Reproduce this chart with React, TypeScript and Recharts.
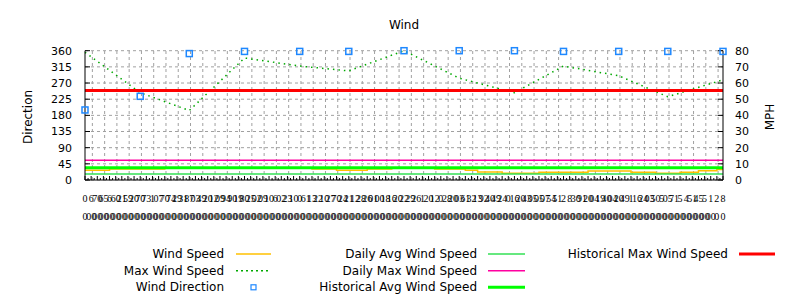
import React from "react";
import {
  ComposedChart,
  Line,
  Scatter,
  XAxis,
  YAxis,
  CartesianGrid,
  ReferenceLine,
  Customized,
} from "recharts";

// ---- data ----
const readingIdx = [0, 9, 17, 26, 35, 43, 52, 61, 70, 78, 87, 95, 104];
const windDirection = [195, 233, 352, 358, 358, 358, 360, 360, 360, 358, 358, 358, 358];
const maxWindSpeed = [79, 54, 43, 75.5, 70.5, 67.5, 80, 63, 54, 70.5, 64.5, 51.5, 62];

const windSpeedIdx = [0, 4, 13, 37, 41, 46, 50, 57, 62, 64, 68, 74, 82, 89, 93, 97, 100, 103, 104];
const windSpeed = [6.0, 6.8, 7.5, 6.8, 6.0, 6.8, 7.5, 6.8, 6.0, 5.0, 4.1, 4.8, 5.6, 4.8, 4.1, 4.8, 5.7, 6.5, 6.5];

const dailyAvgWindSpeed = 3.7;
const dailyMaxWindSpeed = 12.2;
const historicalAvgWindSpeed = 7.6;
const historicalMaxWindSpeed = 55.3;

const topLabels = [
  "0", "6", "70", "65", "6", "60", "21", "59", "20", "70",
  "73", "1", "07", "70", "74", "29", "31", "87", "03", "49",
  "20", "12", "09", "94", "90", "19", "80", "25", "02", "09",
  "10", "6", "02", "23", "10", "0", "61", "13", "22", "10",
  "27", "70", "24", "21", "12", "28", "26", "01", "00", "18",
  "16", "20", "22", "29", "26", "1", "20", "12", "0", "28",
  "20", "03", "61", "32", "13", "92", "40", "49", "24", "0",
  "16", "20", "43", "05", "05", "07", "54", "51", "2", "8",
  "30", "91", "20", "04", "19", "40", "04", "20", "49", "1",
  "16", "24", "03", "50", "5", "05", "71", "5", "4", "51",
  "45", "5", "1", "2", "8",
];
const bottomLabels = [
  "0", "00", "00", "00", "00", "00", "00", "00", "00", "00",
  "00", "00", "00", "00", "00", "00", "00", "00", "00", "00",
  "00", "00", "00", "00", "00", "00", "00", "00", "00", "00",
  "00", "00", "00", "00", "00", "00", "00", "00", "00", "00",
  "00", "00", "00", "00", "00", "00", "00", "00", "00", "00",
  "00", "00", "00", "00", "00", "00", "00", "00", "00", "00",
  "00", "00", "00", "00", "00", "00", "00", "00", "00", "00",
  "00", "00", "00", "00", "00", "00", "00", "00", "00", "00",
  "00", "00", "00", "00", "00", "00", "00", "00", "00", "00",
  "00", "00", "00", "00", "00", "00", "00", "00", "00", "00",
  "00", "00", "00", "0", "0",
];

const directionTicks = [0, 45, 90, 135, 180, 225, 270, 315, 360];
const mphTicks = [0, 10, 20, 30, 40, 50, 60, 70, 80];

// ---- derived tables ----
const lastIdx = topLabels.length - 1;
const rows = topLabels.map((_, i) => {
  const r = readingIdx.indexOf(i);
  const w = windSpeedIdx.indexOf(i);
  return {
    i,
    windSpeed: w >= 0 ? windSpeed[w] : null,
    maxWind: r >= 0 ? maxWindSpeed[r] : null,
    dailyAvg: dailyAvgWindSpeed,
    dailyMax: dailyMaxWindSpeed,
    histAvg: historicalAvgWindSpeed,
    histMax: historicalMaxWindSpeed,
  };
});
const dirRows = readingIdx.map((i, k) => ({ i, dir: windDirection[k] }));
const xTicks = topLabels.flatMap((_, i) => (i < lastIdx ? [i, i + 0.5] : [i]));
const gridX = Array.from({ length: 52 }, (_, j) => 1.2 + 2 * j);

const FONT = "'DejaVu Sans', sans-serif";
const C = {
  wind: "#ffc000",
  max: "#00a800",
  dir: "#1e88ff",
  dailyAvg: "#33e055",
  dailyMax: "#ff00a0",
  histAvg: "#00ff00",
  histMax: "#ff0000",
  grid: "#a0a0a0",
};

const BottomTick = (props: any) => {
  const { x, y, payload } = props;
  const v = payload.value as number;
  const major = Number.isInteger(v);
  return (
    <g>
      <line x1={x} x2={x} y1={y} y2={y - (major ? 4 : 2)} stroke="#000" />
      {major && (
        <text
          textAnchor="middle"
          fontSize={10}
          fontFamily="'Liberation Serif', serif"
          fill="#000"
        >
          <tspan x={x} y={y + 22}>{topLabels[v]}</tspan>
          <tspan x={x} y={y + 40}>{bottomLabels[v]}</tspan>
        </text>
      )}
    </g>
  );
};

const TopTick = (props: any) => {
  const { x, y, payload } = props;
  const major = Number.isInteger(payload.value);
  return <line x1={x} x2={x} y1={y} y2={y + (major ? 4 : 2)} stroke="#000" />;
};

const Square = (props: any) => {
  const { cx, cy } = props;
  if (cx == null || cy == null) return null;
  return (
    <rect x={cx - 3} y={cy - 3} width={6} height={6} fill="none" stroke={C.dir} strokeWidth={1.5} />
  );
};

type LegendItem = { label: string; kind: string; color: string; width?: number; dash?: string };
const legendCols: { textEnd: number; s0: number; s1: number; items: LegendItem[] }[] = [
  {
    textEnd: 216,
    s0: 228,
    s1: 263,
    items: [
      { label: "Wind Speed", kind: "line", color: C.wind, width: 1.5 },
      { label: "Max Wind Speed", kind: "line", color: C.max, width: 1.5, dash: "2 3" },
      { label: "Wind Direction", kind: "square", color: C.dir },
    ],
  },
  {
    textEnd: 469,
    s0: 480,
    s1: 517,
    items: [
      { label: "Daily Avg Wind Speed", kind: "line", color: C.dailyAvg, width: 1.5 },
      { label: "Daily Max Wind Speed", kind: "line", color: C.dailyMax, width: 1.5 },
      { label: "Historical Avg Wind Speed", kind: "line", color: C.histAvg, width: 3 },
    ],
  },
  {
    textEnd: 720,
    s0: 731,
    s1: 767,
    items: [{ label: "Historical Max Wind Speed", kind: "line", color: C.histMax, width: 3 }],
  },
];
const legendRowsY = [246, 262.7, 279.3];

const Decorations = () => (
  <g>
    <text x={396} y={17} textAnchor="middle" dominantBaseline="central" fontSize={12} fontFamily={FONT} fill="#000">
      Wind
    </text>
    <text
      x={20}
      y={109}
      transform="rotate(-90 20 109)"
      textAnchor="middle"
      dominantBaseline="central"
      fontSize={12}
      fontFamily={FONT}
      fill="#000"
    >
      Direction
    </text>
    <text
      x={762}
      y={109}
      transform="rotate(-90 762 109)"
      textAnchor="middle"
      dominantBaseline="central"
      fontSize={12}
      fontFamily={FONT}
      fill="#000"
    >
      MPH
    </text>
    {legendCols.map((col, ci) =>
      col.items.map((it, ri) => {
        const y = legendRowsY[ri];
        return (
          <g key={`${ci}-${ri}`}>
            <text
              x={col.textEnd}
              y={y}
              textAnchor="end"
              dominantBaseline="central"
              fontSize={12}
              fontFamily={FONT}
              fill="#000"
            >
              {it.label}
            </text>
            {it.kind === "line" ? (
              <line
                x1={col.s0}
                x2={col.s1}
                y1={y}
                y2={y}
                stroke={it.color}
                strokeWidth={it.width}
                strokeDasharray={it.dash}
              />
            ) : (
              <rect x={(col.s0 + col.s1) / 2 - 2.5} y={y - 2.5} width={5} height={5} fill="none" stroke={it.color} strokeWidth={1.2} />
            )}
          </g>
        );
      })
    )}
  </g>
);

export default function App() {
  return (
    <ComposedChart
      width={800}
      height={300}
      data={rows}
      margin={{ top: 42.7, right: 0, bottom: 0, left: 0 }}
    >
      <CartesianGrid yAxisId="dir" vertical={false} stroke={C.grid} strokeDasharray="3 3" />
      {gridX.map((g) => (
        <ReferenceLine key={g} x={g} yAxisId="dir" stroke={C.grid} strokeDasharray="3 3" />
      ))}
      <XAxis
        dataKey="i"
        type="number"
        domain={[0, lastIdx]}
        ticks={xTicks}
        interval={0}
        height={128}
        tickSize={0}
        tickMargin={0}
        tickLine={false}
        tick={<BottomTick />}
        axisLine={{ stroke: "#000" }}
      />
      <XAxis
        xAxisId="top"
        dataKey="i"
        type="number"
        orientation="top"
        domain={[0, lastIdx]}
        ticks={xTicks}
        interval={0}
        height={0}
        tickSize={0}
        tickMargin={0}
        tickLine={false}
        tick={<TopTick />}
        axisLine={{ stroke: "#000" }}
      />
      <YAxis
        yAxisId="dir"
        domain={[0, 360]}
        ticks={directionTicks}
        interval={0}
        width={77}
        tickSize={-5}
        tickMargin={18}
        axisLine={{ stroke: "#000" }}
        tickLine={{ stroke: "#000" }}
        tick={{ fill: "#000", fontSize: 11, fontFamily: FONT }}
      />
      <YAxis
        yAxisId="mph"
        orientation="right"
        domain={[0, 80]}
        ticks={mphTicks}
        interval={0}
        width={85}
        tickSize={-5}
        tickMargin={17}
        axisLine={{ stroke: "#000" }}
        tickLine={{ stroke: "#000" }}
        tick={{ fill: "#000", fontSize: 11, fontFamily: FONT }}
      />
      <Line yAxisId="mph" dataKey="windSpeed" type="stepAfter" connectNulls stroke={C.wind} strokeWidth={1.5} dot={false} isAnimationActive={false} />
      <Line yAxisId="mph" dataKey="maxWind" type="linear" connectNulls stroke={C.max} strokeWidth={1.5} strokeDasharray="1.5 4" dot={false} isAnimationActive={false} />
      <Line yAxisId="mph" dataKey="dailyAvg" stroke={C.dailyAvg} strokeWidth={1.5} dot={false} isAnimationActive={false} />
      <Line yAxisId="mph" dataKey="histAvg" stroke={C.histAvg} strokeWidth={3} dot={false} isAnimationActive={false} />
      <Line yAxisId="mph" dataKey="dailyMax" stroke={C.dailyMax} strokeWidth={1.5} dot={false} isAnimationActive={false} />
      <Line yAxisId="mph" dataKey="histMax" stroke={C.histMax} strokeWidth={3} dot={false} isAnimationActive={false} />
      <Scatter yAxisId="dir" data={dirRows} dataKey="dir" shape={<Square />} isAnimationActive={false} />
      <Customized component={Decorations} />
    </ComposedChart>
  );
}
